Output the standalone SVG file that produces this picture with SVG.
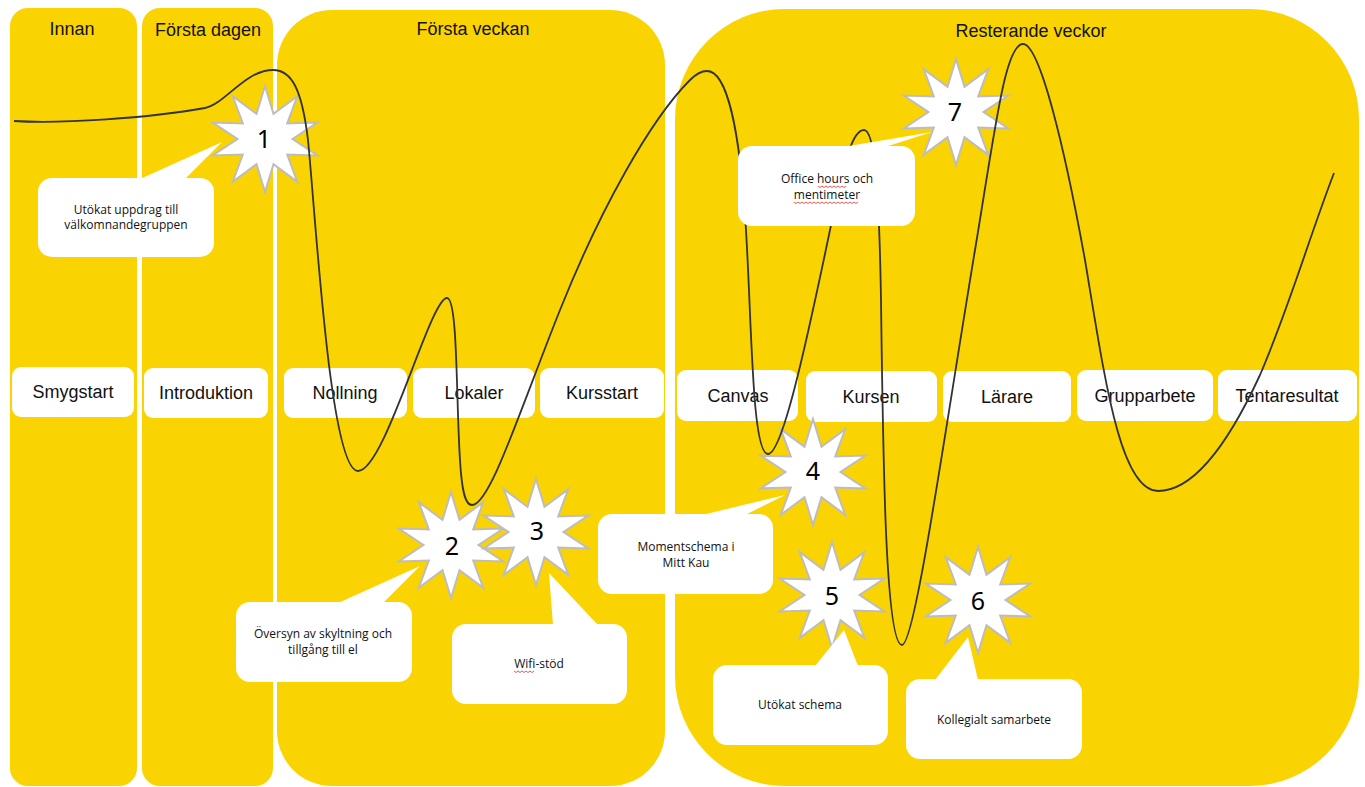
<svg xmlns="http://www.w3.org/2000/svg" xmlns:xlink="http://www.w3.org/1999/xlink" width="1365" height="787" viewBox="0 0 1365 787">
<style>
.panel{fill:#F9D402}
.title{font-family:"Liberation Sans",Arial,sans-serif;font-size:18px;fill:#111;text-anchor:middle}
.box{fill:#fff}
.lbl{font-family:"Liberation Sans",Arial,sans-serif;font-size:18px;fill:#111;text-anchor:middle}
.bubble{fill:#fff}
.ct{font-family:"Open Sans","Noto Sans",sans-serif;font-size:12px;fill:#111;text-anchor:middle}
.star{fill:#fff;stroke:#BDBDBD;stroke-width:2;stroke-linejoin:miter}
.num{font-family:"Noto Sans","Open Sans",sans-serif;font-size:25px;fill:#000;text-anchor:middle}
.curve{fill:none;stroke:#333;stroke-width:1.8}
.sq{fill:none;stroke:#E03030;stroke-width:0.8}
</style>
<defs>
<polygon id="star" class="star" points="0,-53 8.5,-25.2 32.3,-42.9 22.2,-15.6 52.3,-16.4 27.5,0 52.3,16.4 22.2,15.6 32.3,42.9 8.5,25.2 0,53 -8.5,25.2 -32.3,42.9 -22.2,15.6 -52.3,16.4 -27.5,0 -52.3,-16.4 -22.2,-15.6 -32.3,-42.9 -8.5,-25.2"/>
</defs>
<rect width="1365" height="787" fill="#fff"/>
<g id="panels">
<g id="panel-innan"><rect class="panel" x="10" y="8" width="127" height="778" rx="18"/><text class="title" x="72" y="35">Innan</text></g>
<g id="panel-forsta-dagen"><rect class="panel" x="142" y="8" width="131" height="778" rx="18"/><text class="title" x="208" y="36">Första dagen</text></g>
<g id="panel-forsta-veckan"><rect class="panel" x="277" y="10" width="388" height="776" rx="55"/><text class="title" x="473" y="35">Första veckan</text></g>
<g id="panel-resterande"><rect class="panel" x="675" y="9" width="684" height="777" rx="110"/><text class="title" x="1031" y="37">Resterande veckor</text></g>
</g>
<g id="labels">
<g id="n-smygstart"><rect class="box" x="12" y="367" width="122" height="50" rx="9"/><text class="lbl" x="73" y="398">Smygstart</text></g>
<g id="n-introduktion"><rect class="box" x="144" y="368" width="124" height="50" rx="9"/><text class="lbl" x="206" y="399">Introduktion</text></g>
<g id="n-nollning"><rect class="box" x="284" y="368" width="123" height="50" rx="9"/><text class="lbl" x="345" y="399">Nollning</text></g>
<g id="n-lokaler"><rect class="box" x="413" y="368" width="122" height="50" rx="9"/><text class="lbl" x="474" y="399">Lokaler</text></g>
<g id="n-kursstart"><rect class="box" x="540" y="368" width="124" height="50" rx="9"/><text class="lbl" x="602" y="399">Kursstart</text></g>
<g id="n-canvas"><rect class="box" x="677" y="370" width="121" height="51" rx="9"/><text class="lbl" x="738" y="402">Canvas</text></g>
<g id="n-kursen"><rect class="box" x="806" y="371" width="131" height="51" rx="9"/><text class="lbl" x="871" y="403">Kursen</text></g>
<g id="n-larare"><rect class="box" x="943" y="371" width="128" height="51" rx="9"/><text class="lbl" x="1007" y="403">Lärare</text></g>
<g id="n-grupparbete"><rect class="box" x="1077" y="370" width="136" height="51" rx="9"/><text class="lbl" x="1145" y="402">Grupparbete</text></g>
<g id="n-tentaresultat"><rect class="box" x="1218" y="370" width="139" height="51" rx="9"/><text class="lbl" x="1287" y="402">Tentaresultat</text></g>
</g>
<g id="stars">
<g id="s1"><use href="#star" x="265" y="139"/><text class="num" x="264" y="148">1</text></g>
<g id="s2"><use href="#star" x="451" y="545"/><text class="num" x="452" y="555">2</text></g>
<g id="s3"><use href="#star" x="536" y="532"/><text class="num" x="537" y="540">3</text></g>
<g id="s4"><use href="#star" x="813" y="472"/><text class="num" x="813" y="480">4</text></g>
<g id="s5"><use href="#star" x="832" y="595"/><text class="num" x="832" y="605">5</text></g>
<g id="s6"><use href="#star" x="978" y="600"/><text class="num" x="978" y="610">6</text></g>
<g id="s7"><use href="#star" x="956" y="112"/><text class="num" x="955" y="121">7</text></g>
</g>
<g id="connectors">
<path class="curve" d="M14,121 C60,124 150,118 205,108 C225,104 245,70 273,70 C292,70 302,90 308,140 C316,220 330,471 358,471 C385,471 430,298 447,298 C458,298 456,400 460,460 C462,495 466,505 472,505 C490,505 520,410 560,310 C600,210 650,120 690,80 C697,73 702,71 707,71 C727,71 740,130 746,230 C752,330 752,454 768,454 C782,454 805,350 830,230 C845,160 852,130 864,130 C874,130 879,180 881,300 C883,450 885,645 902,645 C915,645 945,430 975,250 C995,130 1005,44 1023,44 C1040,44 1065,150 1085,260 C1105,380 1120,491 1158,491 C1195,491 1230,440 1260,375 C1290,305 1310,235 1334,173"/>
</g>
<g id="callouts">
<g id="c1"><polygon class="bubble" points="140,179 185,179 222,142"/><rect class="bubble" x="38" y="178" width="176" height="79" rx="14"/><text class="ct" x="126" y="214">Utökat uppdrag till</text><text class="ct" x="126" y="229">välkomnandegruppen</text></g>
<g id="c2"><polygon class="bubble" points="338,603 383,603 420,566"/><rect class="bubble" x="236" y="602" width="176" height="80" rx="14"/><text class="ct" x="323" y="638">Översyn av skyltning och</text><text class="ct" x="323" y="654">tillgång till el</text></g>
<g id="c3"><polygon class="bubble" points="553,625 598,625 549,573"/><rect class="bubble" x="452" y="624" width="175" height="80" rx="14"/><text class="ct" x="539" y="668">Wifi-stöd</text><path class="sq" d="M514,671 l2,1.5 l2,-1.5 l2,1.5 l2,-1.5 l2,1.5 l2,-1.5 l2,1.5 l2,-1.5 l2,1.5 l2,-1.5"/></g>
<g id="c4"><polygon class="bubble" points="702,515 745,515 785,495"/><rect class="bubble" x="598" y="514" width="175" height="80" rx="14"/><text class="ct" x="686" y="551">Momentschema i</text><text class="ct" x="686" y="567">Mitt Kau</text></g>
<g id="c5"><polygon class="bubble" points="815,666 858,666 844,630"/><rect class="bubble" x="713" y="665" width="175" height="80" rx="14"/><text class="ct" x="800" y="709">Utökat schema</text></g>
<g id="c6"><polygon class="bubble" points="935,680 978,680 968,637"/><rect class="bubble" x="906" y="679" width="176" height="80" rx="14"/><text class="ct" x="994" y="724">Kollegialt samarbete</text></g>
<g id="c7"><polygon class="bubble" points="843,147 885,147 932,132"/><rect class="bubble" x="738" y="146" width="177" height="80" rx="14"/><text class="ct" x="827" y="183">Office hours och</text><text class="ct" x="827" y="199">mentimeter</text><path class="sq" d="M818,186 l2,1.5 l2,-1.5 l2,1.5 l2,-1.5 l2,1.5 l2,-1.5 l2,1.5 l2,-1.5 l2,1.5 l2,-1.5 l2,1.5 l2,-1.5 l2,1.5 l2,-1.5"/><path class="sq" d="M794,202 l2,1.5 l2,-1.5 l2,1.5 l2,-1.5 l2,1.5 l2,-1.5 l2,1.5 l2,-1.5 l2,1.5 l2,-1.5 l2,1.5 l2,-1.5 l2,1.5 l2,-1.5 l2,1.5 l2,-1.5 l2,1.5 l2,-1.5 l2,1.5 l2,-1.5 l2,1.5 l2,-1.5 l2,1.5 l2,-1.5 l2,1.5 l2,-1.5 l2,1.5 l2,-1.5 l2,1.5 l2,-1.5 l2,1.5 l2,-1.5"/></g>
</g>
</svg>
